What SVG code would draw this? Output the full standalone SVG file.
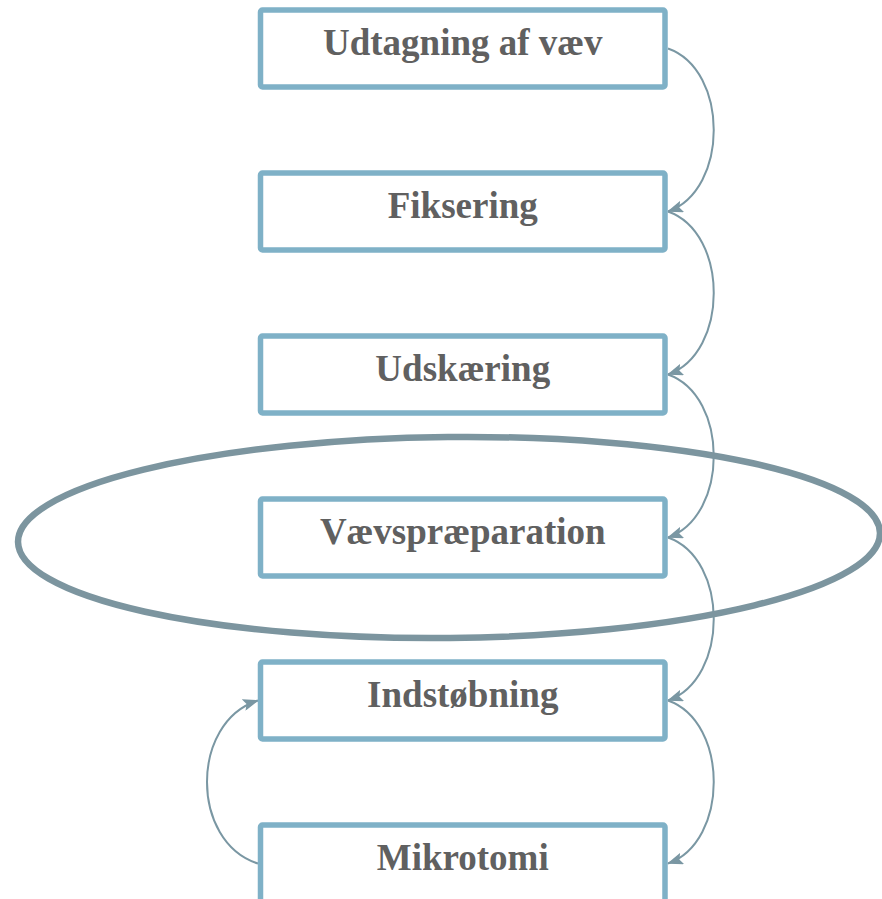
<svg xmlns="http://www.w3.org/2000/svg" width="882" height="899" viewBox="0 0 882 899">
<style>
.box{fill:#ffffff;stroke:#7fb1c7;stroke-width:5.5}
.lbl{font-family:"Liberation Serif","Times New Roman",serif;font-weight:bold;font-size:37px;fill:#606060;text-anchor:middle}
.con{fill:none;stroke:#7a97a3;stroke-width:2;marker-end:url(#ah)}
</style>
<defs>
<marker id="ah" markerWidth="16" markerHeight="12" refX="15" refY="6" orient="auto" markerUnits="userSpaceOnUse">
<path d="M0,0 L16,6 L0,12 L3,6 Z" fill="#7a97a3"/>
</marker>
</defs>
<rect width="882" height="899" fill="#ffffff"/>
<g id="connectors">
<path class="con" d="M668,48.5 C729,70 729,190 668,211.5"/>
<path class="con" d="M668,211.5 C729,233 729,353 668,374.5"/>
<path class="con" d="M668,374.5 C729,396 729,516 668,537.5"/>
<path class="con" d="M668,537.5 C729,559 729,679 668,700.5"/>
<path class="con" d="M668,700.5 C729,722 729,842 668,863.5"/>
<path class="con" d="M258,863.5 C190,842 190,722 258,700.5"/>
</g>
<g id="n1"><rect class="box" x="260.5" y="10" width="404.5" height="77" rx="2"/><text class="lbl" x="462.75" y="55">Udtagning af væv</text></g>
<g id="n2"><rect class="box" x="260.5" y="173" width="404.5" height="77" rx="2"/><text class="lbl" x="462.75" y="218">Fiksering</text></g>
<g id="n3"><rect class="box" x="260.5" y="336" width="404.5" height="77" rx="2"/><text class="lbl" x="462.75" y="381">Udskæring</text></g>
<g id="n4"><rect class="box" x="260.5" y="499" width="404.5" height="77" rx="2"/><text class="lbl" x="462.75" y="544">Vævspræparation</text></g>
<g id="n5"><rect class="box" x="260.5" y="662" width="404.5" height="77" rx="2"/><text class="lbl" x="462.75" y="707">Indstøbning</text></g>
<g id="n6"><rect class="box" x="260.5" y="825" width="404.5" height="77" rx="2"/><text class="lbl" x="462.75" y="870">Mikrotomi</text></g>
<g id="highlight"><ellipse cx="449" cy="537.5" rx="431" ry="100.5" fill="none" stroke="#7c959f" stroke-width="6.5" transform="rotate(-0.6 449 537.5)"/></g>
</svg>
